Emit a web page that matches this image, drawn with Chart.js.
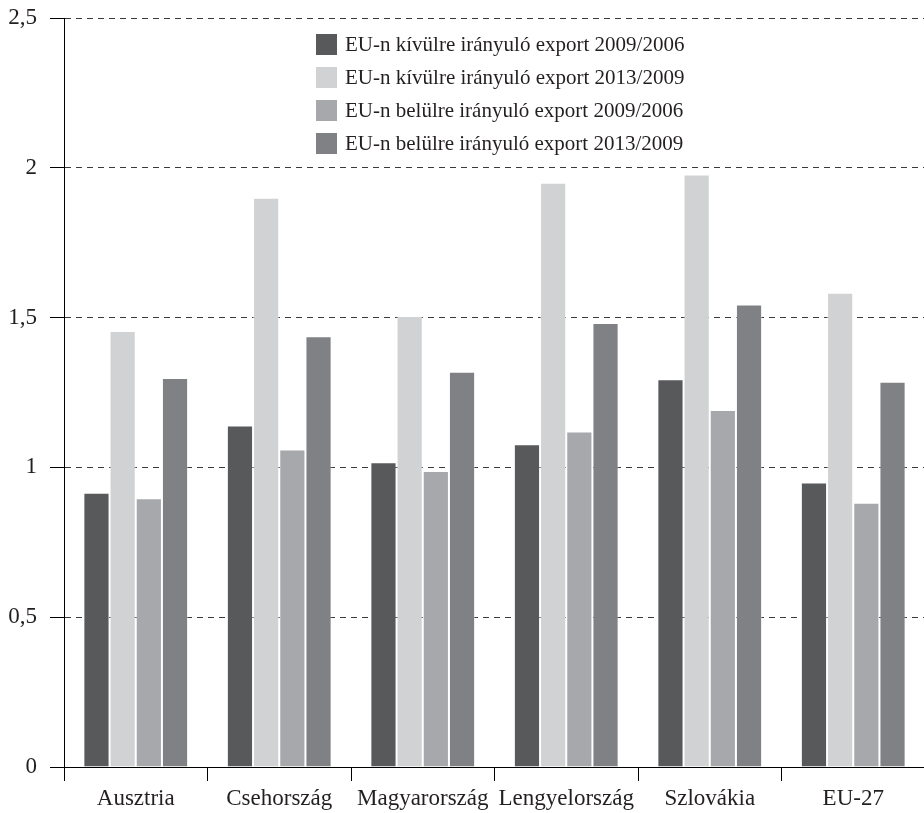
<!DOCTYPE html>
<html lang="hu">
<head>
<meta charset="utf-8">
<title>Export növekedése</title>
<script src="https://cdn.jsdelivr.net/npm/chart.js@4/dist/chart.umd.min.js"></script>
<style>
  html, body { margin: 0; padding: 0; background: #fff; overflow: hidden; }
  #wrap { position: relative; width: 925px; height: 813px; }
</style>
</head>
<body>
<div id="wrap"><canvas id="chart"></canvas></div>
<script>
// Országok / kategóriák
const categories = ['Ausztria', 'Csehország', 'Magyarország', 'Lengyelország', 'Szlovákia', 'EU-27'];

// Sorozatok (arányok)
const seriesLabels = [
  'EU-n kívülre irányuló export 2009/2006',
  'EU-n kívülre irányuló export 2013/2009',
  'EU-n belülre irányuló export 2009/2006',
  'EU-n belülre irányuló export 2013/2009'
];
const outside2009_2006 = [0.915, 1.14, 1.017, 1.077, 1.294, 0.95];
const outside2013_2009 = [1.455, 1.90, 1.505, 1.95, 1.978, 1.583];
const inside2009_2006  = [0.897, 1.06, 0.988, 1.12, 1.192, 0.882];
const inside2013_2009  = [1.298, 1.438, 1.319, 1.482, 1.544, 1.286];

// Y tengely beosztása
const yTicks = [0, 0.5, 1, 1.5, 2, 2.5];

const colors = ['#58595b', '#d1d2d4', '#a7a8ab', '#808184'];
const serif = '"Liberation Serif", "Times New Roman", serif';
const textColor = '#231f20';

// Jelmagyarázat a rajzterületen belül, függőleges oszlopban
const innerLegend = {
  id: 'innerLegend',
  afterDraw(chart) {
    const ctx = chart.ctx;
    ctx.save();
    ctx.font = '21px ' + serif;
    ctx.textBaseline = 'middle';
    ctx.textAlign = 'left';
    chart.data.datasets.forEach((ds, i) => {
      const top = 34 + i * 33;
      ctx.fillStyle = ds.backgroundColor;
      ctx.fillRect(316, top, 21, 21);
      ctx.fillStyle = textColor;
      ctx.fillText(ds.label, 345, top + 11);
    });
    ctx.restore();
  }
};

const datasetValues = [outside2009_2006, outside2013_2009, inside2009_2006, inside2013_2009];

new Chart(document.getElementById('chart'), {
  type: 'bar',
  data: {
    labels: categories,
    datasets: datasetValues.map((vals, i) => ({
      label: seriesLabels[i],
      data: vals,
      backgroundColor: colors[i],
      borderColor: 'rgba(255,255,255,0.45)',
      borderWidth: 1,
      categoryPercentage: 0.73,
      barPercentage: 1.0
    }))
  },
  options: {
    responsive: true,
    maintainAspectRatio: false,
    animation: false,
    layout: { padding: { top: 18, right: 0, bottom: 0, left: 0 } },
    plugins: {
      legend: { display: false },
      tooltip: { enabled: false }
    },
    scales: {
      x: {
        grid: {
          display: true,
          offset: true,
          drawOnChartArea: false,
          drawTicks: true,
          tickLength: 14,
          tickColor: '#000',
          tickWidth: 1
        },
        border: { display: true, color: '#000', width: 1 },
        ticks: {
          color: textColor,
          font: { family: serif, size: 23 },
          padding: 4,
          maxRotation: 0,
          autoSkip: false
        },
        afterFit(scale) {
          scale.height = 46;
          scale.paddingLeft = 0;
          scale.paddingRight = 0;
        }
      },
      y: {
        min: 0,
        max: 2.5,
        afterBuildTicks(scale) { scale.ticks = yTicks.map(v => ({ value: v })); },
        grid: {
          color: '#3a3a3a',
          lineWidth: 1,
          drawTicks: true,
          tickLength: 14,
          tickColor: '#000',
          tickBorderDash: []
        },
        border: { display: true, color: '#000', width: 1, dash: [6, 5] },
        ticks: {
          color: textColor,
          font: { family: serif, size: 23 },
          padding: 13,
          callback: v => String(v).replace('.', ',')
        },
        afterFit(scale) {
          scale.width = 64;
          scale.paddingTop = 0;
          scale.paddingBottom = 0;
        }
      }
    }
  },
  plugins: [innerLegend]
});
</script>
</body>
</html>
